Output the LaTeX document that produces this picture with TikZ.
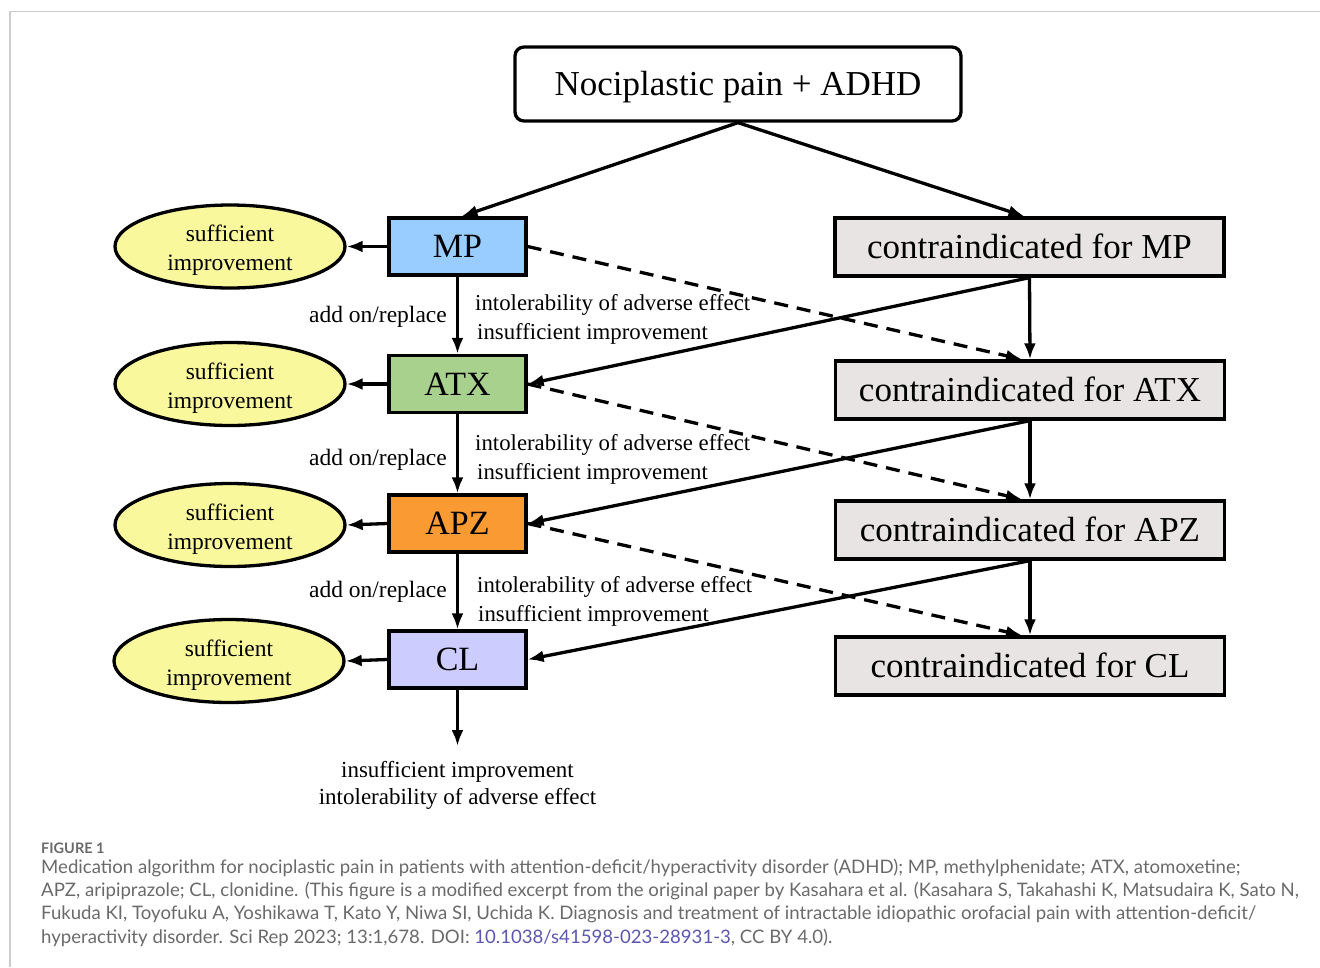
\documentclass[tikz,border=0pt]{standalone}
\usepackage{fontspec}
\setmainfont{Liberation Serif}
\newfontfamily\capfont{Lato}
\usetikzlibrary{arrows.meta,shapes.geometric}
\definecolor{mpc}{HTML}{99CCFF}
\definecolor{atxc}{HTML}{A9D18E}
\definecolor{apzc}{HTML}{FA9A33}
\definecolor{clc}{HTML}{CCCCFF}
\definecolor{contrac}{HTML}{E8E4E4}
\definecolor{ellc}{HTML}{FAF89C}
\definecolor{capgray}{HTML}{6A6A6A}
\definecolor{linkc}{HTML}{5B57B0}
\definecolor{framec}{HTML}{CCCCCC}
\newcommand{\twoline}[2]{\raisebox{-4pt}[\height][\depth]{\renewcommand{\arraystretch}{1}\begin{tabular}{@{}c@{}}#1\\#2\end{tabular}}}
\tikzset{
  arr/.style={line width=3.3pt,-{Latex[length=16pt,width=12pt]}},
  darr/.style={line width=3.3pt,dash pattern=on 14pt off 9pt,-{Latex[length=16pt,width=12pt]}},
  drug/.style={draw,line width=3.3pt,minimum width=137pt,minimum height=57pt,font=\fontsize{34}{34}\selectfont,inner sep=0pt,text height=22.5pt,text depth=0pt},
  contra/.style={draw,line width=3.3pt,fill=contrac,minimum width=389pt,minimum height=58pt,font=\fontsize{35}{35}\selectfont,inner sep=0pt,text height=23.5pt,text depth=0pt},
  suff/.style={ellipse,draw,line width=3.3pt,fill=ellc,minimum width=230pt,minimum height=83pt,inner sep=0pt,font=\fontsize{23.5}{29}\selectfont},
  lbl/.style={font=\fontsize{23.5}{29}\selectfont,inner sep=0pt},
  captxt/.style={anchor=west,inner sep=0pt,text=capgray,font=\capfont\fontsize{18.6}{22}\selectfont}
}
\begin{document}
\begin{tikzpicture}[x=1pt,y=-1pt]
\useasboundingbox (0,0) rectangle (1320,967);
\draw[framec,line width=1.5pt] (9.75,967) -- (9.75,11.5) -- (1320,11.5);

\node[draw,line width=3.3pt,rounded corners=9pt,minimum width=446pt,minimum height=74pt,inner sep=0pt,font=\fontsize{35}{35}\selectfont,text height=23.5pt,text depth=0pt] (top) at (738,84) {Nociplastic pain + ADHD};

\node[drug,fill=mpc] (mp) at (457.5,246.5) {MP};
\node[drug,fill=atxc] (atx) at (457.5,384) {ATX};
\node[drug,fill=apzc] (apz) at (457.5,523.5) {APZ};
\node[drug,fill=clc] (cl) at (457.5,659.5) {CL};

\node[contra] (cmp) at (1029.5,247) {contraindicated for MP};
\node[contra] (catx) at (1030,390) {contraindicated for ATX};
\node[contra] (capz) at (1030,530) {contraindicated for APZ};
\node[contra] (ccl) at (1030,666) {contraindicated for CL};

\node[suff] (s1) at (230,246.5) {\twoline{sufficient}{improvement}};
\node[suff] (s2) at (230,384) {\twoline{sufficient}{improvement}};
\node[suff] (s3) at (230,525) {\twoline{sufficient}{improvement}};
\node[suff] (s4) at (229,661) {\twoline{sufficient}{improvement}};

% top arrows
\draw[arr] (top.south) -- ([xshift=4pt]mp.north);
\draw[arr] (top.south) -- ([xshift=-5pt]cmp.north);

% sufficient arrows
\draw[arr] (mp.west) -- (s1.east);
\draw[arr] (atx.west) -- (s2.east);
\draw[arr] (apz.west) -- (s3.east);
\draw[arr] (cl.west) -- (s4.east);

% vertical drug chain
\draw[arr] (mp.south) -- (atx.north);
\draw[arr] (atx.south) -- (apz.north);
\draw[arr] (apz.south) -- (cl.north);
\coordinate (endc) at (457.5,746);
\draw[arr] (cl.south) -- (endc);

% contra chain
\draw[arr] (cmp.south) -- (catx.north);
\draw[arr] (catx.south) -- (capz.north);
\draw[arr] (capz.south) -- (ccl.north);

% contra to drug
\draw[arr] (cmp.south) -- (atx.east);
\draw[arr] (catx.south) -- (apz.east);
\draw[arr] (capz.south) -- (cl.east);

% dashed
\draw[darr] (mp.east) -- ([xshift=-8pt]catx.north);
\draw[darr] (atx.east) -- ([xshift=-8pt]capz.north);
\draw[darr] (apz.east) -- ([xshift=-8pt]ccl.north);

% labels
\node[lbl,anchor=east] (ao1) at (447,316.5) {add on/replace};
\node[lbl,anchor=east] (ao2) at (447,459.5) {add on/replace};
\node[lbl,anchor=east] (ao3) at (447,591.5) {add on/replace};
\node[lbl,anchor=west,font=\fontsize{22.8}{29}\selectfont] (it1) at (475,304.5) {intolerability of adverse effect};
\node[lbl,anchor=west,font=\fontsize{22.8}{29}\selectfont] (in1) at (477,333.5) {insufficient improvement};
\node[lbl,anchor=west,font=\fontsize{22.8}{29}\selectfont] (it2) at (475,444.5) {intolerability of adverse effect};
\node[lbl,anchor=west,font=\fontsize{22.8}{29}\selectfont] (in2) at (477,473.5) {insufficient improvement};
\node[lbl,anchor=west,font=\fontsize{22.8}{29}\selectfont] (it3) at (477,586.5) {intolerability of adverse effect};
\node[lbl,anchor=west,font=\fontsize{22.8}{29}\selectfont] (in3) at (478,615.5) {insufficient improvement};
\node[lbl,align=center,font=\fontsize{23}{27}\selectfont] (fin) at (457.5,785.5) {insufficient improvement\\intolerability of adverse effect};

% caption
\node[captxt,font=\capfont\bfseries\fontsize{14.5}{16}\selectfont] (fig) at (41,848.5) {FIGURE 1};
\node[captxt] (c1) at (41,867.5) {Medication algorithm for nociplastic pain in patients with attention-deficit/hyperactivity disorder (ADHD); MP, methylphenidate; ATX, atomoxetine;};
\node[captxt] (c2) at (41,891) {APZ, aripiprazole; CL, clonidine. (This figure is a modified excerpt from the original paper by Kasahara et al. (Kasahara S, Takahashi K, Matsudaira K, Sato N,};
\node[captxt] (c3) at (41,914.5) {Fukuda KI, Toyofuku A, Yoshikawa T, Kato Y, Niwa SI, Uchida K. Diagnosis and treatment of intractable idiopathic orofacial pain with attention-deficit/};
\node[captxt] (c4) at (41,938) {hyperactivity disorder. Sci Rep 2023; 13:1,678. DOI: \textcolor{linkc}{10.1038/s41598-023-28931-3}, CC BY 4.0).};
\end{tikzpicture}
\end{document}
